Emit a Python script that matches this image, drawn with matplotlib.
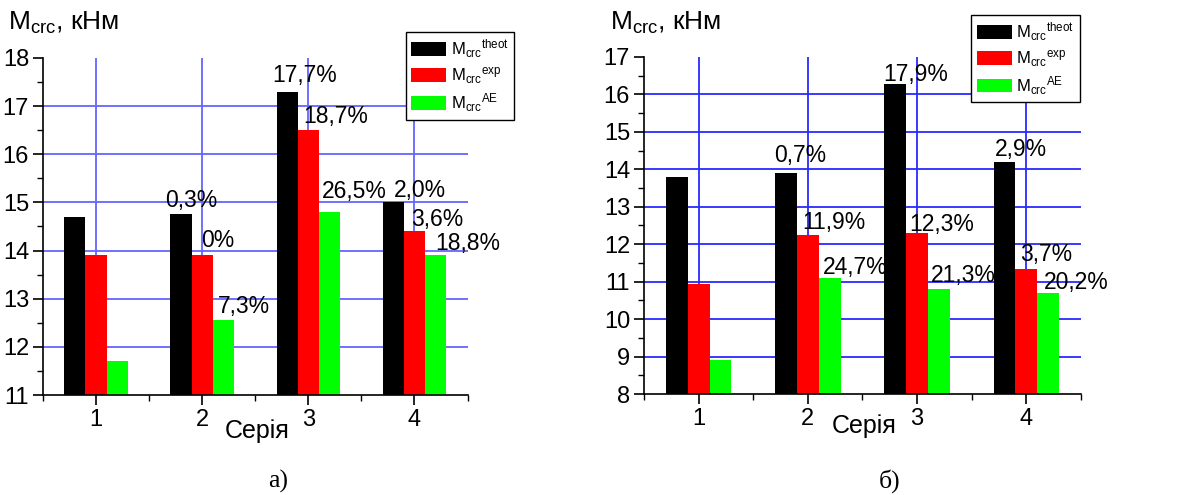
import matplotlib.pyplot as plt
from matplotlib.patches import Patch
from matplotlib.ticker import MultipleLocator

plt.rcParams['font.family'] = ['Liberation Sans', 'DejaVu Sans']
plt.rcParams['mathtext.default'] = 'regular'

series = [1, 2, 3, 4]

# panel a)
a_theot = [14.7, 14.75, 17.3, 15.0]
a_exp = [13.9, 13.9, 16.5, 14.4]
a_ae = [11.7, 12.55, 14.8, 13.9]
a_theot_pct = [None, '0,3%', '17,7%', '2,0%']
a_exp_pct = [None, '0%', '18,7%', '3,6%']
a_ae_pct = [None, '7,3%', '26,5%', '18,8%']

# panel б)
b_theot = [13.8, 13.9, 16.28, 14.2]
b_exp = [10.95, 12.25, 12.3, 11.35]
b_ae = [8.9, 11.1, 10.8, 10.7]
b_theot_pct = [None, '0,7%', '17,9%', '2,9%']
b_exp_pct = [None, '11,9%', '12,3%', '3,7%']
b_ae_pct = [None, '24,7%', '21,3%', '20,2%']

colors = ['black', '#ff0000', '#00ff00']
names = [r'M$_{crc}$$^{theot}$', r'M$_{crc}$$^{exp}$', r'M$_{crc}$$^{AE}$']
w = 0.2

# label offsets in pixels from the top-left corner of each bar
a_offs = [
    [None, (-5, 7), (-4, 10), (11, 5)],
    [None, (10, 8), (6, 7), (7, 5)],
    [None, (5, 7), (3, 14), (10, 5)],
]
b_offs = [
    [None, (-1, 11), (-1, 3), (1, 6)],
    [None, (5, 6), (3, 2), (5, 8)],
    [None, (4, 4), (3, 7), (7, 4)],
]

fig = plt.figure(figsize=(11.81, 4.95), dpi=100)
ax1 = fig.add_axes([0.0364, 0.202, 0.3595, 0.681])
ax2 = fig.add_axes([0.5453, 0.204, 0.370, 0.681])


def draw(ax, vals, pcts, offs, ylim, grid_color, leg_anchor, xlab_y):
    ax.set_axisbelow(True)
    for i in range(3):
        xs = [s + (i - 1) * w for s in series]
        ax.bar(xs, vals[i], width=w, color=colors[i], edgecolor='none', zorder=2)
        for j, s in enumerate(series):
            if pcts[i][j] is None:
                continue
            dx, dy = offs[i][j]
            ax.annotate(pcts[i][j], xy=(xs[j] - w / 2, vals[i][j]),
                        xytext=(dx, dy), textcoords='offset pixels',
                        ha='left', va='baseline', fontsize=16.5, zorder=4,
                        annotation_clip=False)
    ax.set_xlim(0.5, 4.5)
    ax.set_ylim(*ylim)
    ax.set_xticks(series)
    ax.xaxis.set_minor_locator(MultipleLocator(0.5))
    ax.yaxis.set_major_locator(MultipleLocator(1))
    ax.yaxis.set_minor_locator(MultipleLocator(0.5))
    ax.tick_params(which='major', direction='out', length=7, width=1.2,
                   labelsize=17, pad=3)
    ax.tick_params(which='minor', direction='out', length=4, width=1.0)
    for sp in ['top', 'right']:
        ax.spines[sp].set_visible(False)
    for sp in ['left', 'bottom']:
        ax.spines[sp].set_linewidth(1.2)
    for y in range(ylim[0] + 1, ylim[1]):
        ax.axhline(y, color=grid_color, lw=1.3, zorder=1)
    for s in series:
        ax.axvline(s, color=grid_color, lw=1.3, zorder=1)
    ax.set_xlabel('Серія', fontsize=18)
    ax.xaxis.set_label_coords(0.505, xlab_y)
    handles = [Patch(facecolor=c, edgecolor='none') for c in colors]
    leg = ax.legend(handles, names, loc='upper left', bbox_to_anchor=leg_anchor,
                    fontsize=12, handlelength=2.1, handleheight=0.9,
                    labelspacing=0.3, handletextpad=0.25, borderpad=0.35,
                    borderaxespad=0, fancybox=False, framealpha=1,
                    edgecolor='black')
    leg.get_frame().set_linewidth(1.0)
    leg.set_zorder(5)


draw(ax1, [a_theot, a_exp, a_ae], [a_theot_pct, a_exp_pct, a_ae_pct], a_offs,
     (11, 18), '#6464ff', (0.854, 1.077), -0.072)
draw(ax2, [b_theot, b_exp, b_ae], [b_theot_pct, b_exp_pct, b_ae_pct], b_offs,
     (8, 17), '#2a2aff', (0.748, 1.125), -0.06)

fig.text(8 / 1181, 1 - 30 / 495, r'M$_{crc}$, кНм', fontsize=19, va='baseline')
fig.text(610 / 1181, 1 - 30 / 495, r'M$_{crc}$, кНм', fontsize=19, va='baseline')

fig.text(278 / 1181, 1 - 488 / 495, 'а)', fontsize=18.5, ha='center',
         va='baseline', family=['Liberation Serif', 'DejaVu Serif'])
fig.text(890 / 1181, 1 - 488 / 495, 'б)', fontsize=18.5, ha='center',
         va='baseline', family=['Liberation Serif', 'DejaVu Serif'])

fig.savefig('out.png', dpi=100)
